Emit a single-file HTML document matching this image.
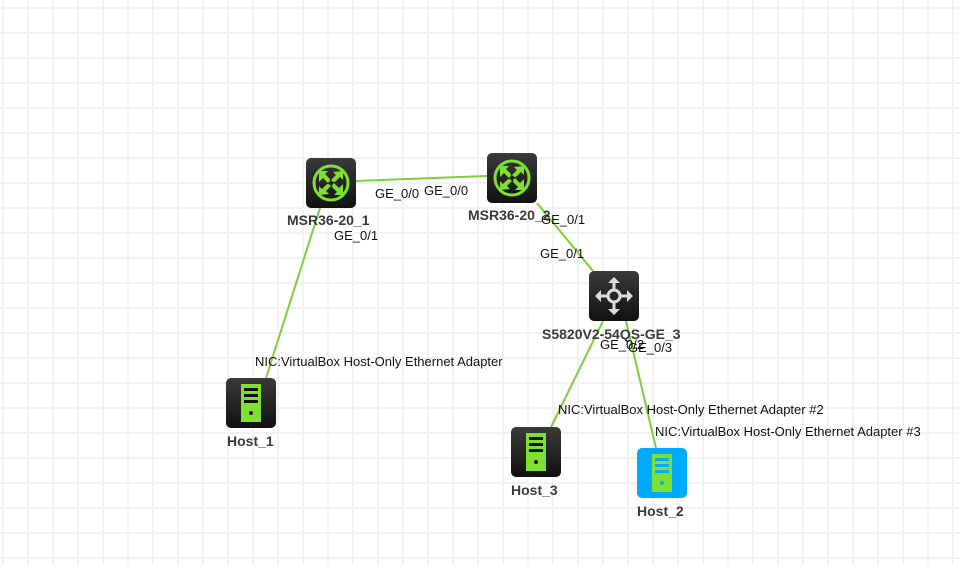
<!DOCTYPE html>
<html><head><meta charset="utf-8"><style>
html,body{margin:0;padding:0;background:#fff;}
svg{display:block;}
.l{font-family:"Liberation Sans",sans-serif;font-size:13px;fill:#111;}
.b{font-family:"Liberation Sans",sans-serif;font-size:14px;font-weight:bold;fill:#3a3a3a;}
</style></head><body>
<svg width="959" height="565" viewBox="0 0 959 565" xmlns="http://www.w3.org/2000/svg">
<defs>
<pattern id="g" x="2" y="7" width="25" height="25" patternUnits="userSpaceOnUse">
<rect x="0" y="0" width="2" height="25" fill="#f2f2f2"/>
<rect x="0" y="0" width="25" height="2" fill="#f2f2f2"/>
</pattern>
<linearGradient id="dk" x1="0" y1="0" x2="0" y2="1">
<stop offset="0" stop-color="#3a3a3a"/><stop offset="1" stop-color="#111"/>
</linearGradient>
<g id="router">
<rect x="0" y="0" width="50" height="50" rx="5" fill="url(#dk)"/>
<circle cx="25" cy="25" r="17" fill="none" stroke="#7fe030" stroke-width="3"/>
<g fill="#7fe030">
<path d="M13 13 h9 l-3 3 l4 4 q2 2 0 4 l-1 1 l-5 -5 l-4 4 z"/>
<path d="M37 13 v9 l-3 -3 l-4 4 q-2 2 -4 0 l-1 -1 l5 -5 l-3 -3 z"/>
<path d="M13 37 v-9 l3 3 l4 -4 q2 -2 4 0 l1 1 l-5 5 l3 3 z"/>
<path d="M37 37 h-9 l3 -3 l-4 -4 q-2 -2 0 -4 l1 -1 l5 5 l4 -4 z"/>
</g>
</g>
<g id="host">
<rect x="0" y="0" width="50" height="50" rx="5" fill="url(#dk)"/>
<rect x="15" y="6" width="20" height="38" fill="#7fe030"/>
<rect x="18" y="10" width="14" height="3" fill="#111"/>
<rect x="18" y="16" width="14" height="3" fill="#111"/>
<rect x="18" y="22" width="14" height="3" fill="#111"/>
<circle cx="25" cy="35" r="2" fill="#111"/>
</g>
</defs>
<rect width="959" height="565" fill="url(#g)"/>
<g stroke="#7cd03c" stroke-width="2" fill="none">
<line x1="356" y1="181" x2="487" y2="176"/>
<line x1="320" y1="208" x2="266" y2="378"/>
<line x1="537" y1="203" x2="593" y2="271"/>
<line x1="603" y1="321" x2="551" y2="427"/>
<line x1="626" y1="321" x2="656" y2="448"/>
</g>
<use href="#router" x="306" y="158"/>
<use href="#router" x="487" y="153"/>
<g transform="translate(589,271)">
<rect x="0" y="0" width="50" height="50" rx="5" fill="url(#dk)"/>
<g fill="#ddd" stroke="#ddd">
<circle cx="25" cy="25" r="6" fill="none" stroke-width="3"/>
<path d="M25 19 V11 M25 31 V39 M19 25 H11 M31 25 H39" stroke-width="3"/>
<path d="M25 6 l-6 6 h12 z M25 44 l-6 -6 h12 z M6 25 l6 -6 v12 z M44 25 l-6 -6 v12 z" stroke="none"/>
</g>
</g>
<use href="#host" x="226" y="378"/>
<use href="#host" x="511" y="427"/>
<g transform="translate(637,448)">
<rect x="0" y="0" width="50" height="50" rx="5" fill="#00aaff"/>
<rect x="15" y="6" width="20" height="38" fill="#7fe030"/>
<rect x="18" y="10" width="14" height="3" fill="#00aaff"/>
<rect x="18" y="16" width="14" height="3" fill="#00aaff"/>
<rect x="18" y="22" width="14" height="3" fill="#00aaff"/>
<circle cx="25" cy="35" r="2" fill="#00aaff"/>
</g>
<text class="l" x="375" y="198">GE_0/0</text>
<text class="l" x="424" y="195">GE_0/0</text>
<text class="b" x="287" y="225">MSR36-20_1</text>
<text class="l" x="334" y="240">GE_0/1</text>
<text class="b" x="468" y="220">MSR36-20_2</text>
<text class="l" x="541" y="224">GE_0/1</text>
<text class="l" x="540" y="258">GE_0/1</text>
<text class="b" x="542" y="339">S5820V2-54QS-GE_3</text>
<text class="l" x="600" y="349">GE_0/2</text>
<text class="l" x="628" y="352">GE_0/3</text>
<text class="l" x="255" y="366">NIC:VirtualBox Host-Only Ethernet Adapter</text>
<text class="b" x="227" y="446">Host_1</text>
<text class="l" x="558" y="414">NIC:VirtualBox Host-Only Ethernet Adapter #2</text>
<text class="l" x="655" y="436">NIC:VirtualBox Host-Only Ethernet Adapter #3</text>
<text class="b" x="511" y="495">Host_3</text>
<text class="b" x="637" y="516">Host_2</text>
</svg>
</body></html>
